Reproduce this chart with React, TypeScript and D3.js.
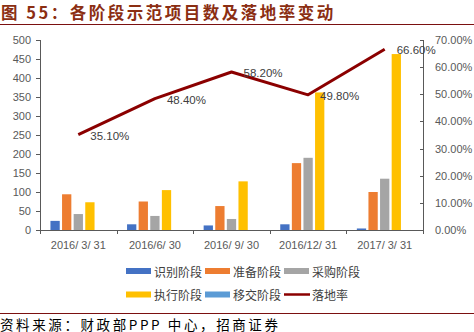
import React from "react";
import * as d3 from "d3";

const categories = ["2016/ 3/ 31", "2016/6/ 30", "2016/ 9/ 30", "2016/12/ 31", "2017/ 3/ 31"];
const seriesNames = ["识别阶段", "准备阶段", "采购阶段", "执行阶段", "移交阶段"];
const seriesColors = ["#4472C4", "#ED7D31", "#A5A5A5", "#FFC000", "#5B9BD5"];
const identifyVals = [24, 15, 12, 15, 4];
const prepareVals = [94, 75, 63, 176, 100];
const procureVals = [42, 37, 29, 190, 135];
const executeVals = [73, 105, 128, 362, 463];
const transferVals = [0, 0, 0, 0, 0];
const rateVals = [35.1, 48.4, 58.2, 49.8, 66.6];
const leftTicks = [0, 50, 100, 150, 200, 250, 300, 350, 400, 450, 500];
const rightTicks = [0, 10, 20, 30, 40, 50, 60, 70];

const W = 474;
const H = 332;
const M = { left: 40, right: 423, top: 40, bottom: 230 };
const numFont = "'Liberation Sans', Arial, sans-serif";
const cjkFont = "'Noto Sans CJK SC', sans-serif";

export default function App() {
  const series = [identifyVals, prepareVals, procureVals, executeVals, transferVals];
  const x = d3.scaleBand<string>().domain(categories).range([M.left, M.right]).paddingInner(0).paddingOuter(0);
  const x1 = d3
    .scaleBand<number>()
    .domain(d3.range(series.length))
    .range([0, x.bandwidth()])
    .paddingInner(0.2)
    .paddingOuter(0.9);
  const yL = d3.scaleLinear().domain([0, 500]).range([M.bottom, M.top]);
  const yR = d3.scaleLinear().domain([0, 70]).range([M.bottom, M.top]);
  const line = d3
    .line<number>()
    .x((_, i) => (x(categories[i]) as number) + x.bandwidth() / 2)
    .y((d) => yR(d));

  const legendItems = [
    { name: seriesNames[0], color: seriesColors[0], type: "bar" },
    { name: seriesNames[1], color: seriesColors[1], type: "bar" },
    { name: seriesNames[2], color: seriesColors[2], type: "bar" },
    { name: seriesNames[3], color: seriesColors[3], type: "bar" },
    { name: seriesNames[4], color: seriesColors[4], type: "bar" },
    { name: "落地率", color: "#8B0000", type: "line" },
  ];
  const axisColor = "#595959";
  const textColor = "#595959";

  return (
    <svg
      width={W}
      height={H}
      style={{ position: "absolute", left: 0, top: 0, background: "#fff" }}
    >
      {/* title */}
      <text
        x={1}
        y={19}
        fontFamily={cjkFont}
        fontWeight="bold"
        fontSize={16.5}
        letterSpacing={2.5}
        fill="#8B2E12"
      >
        图 55：各阶段示范项目数及落地率变动
      </text>
      <line x1={0} x2={W} y1={24.5} y2={24.5} stroke="#7B1010" strokeWidth={1.2} />

      {/* bars */}
      {series.map((vals, si) =>
        vals.map((v, ci) => (
          <rect
            key={`${si}-${ci}`}
            x={(x(categories[ci]) as number) + (x1(si) as number)}
            y={yL(v)}
            width={x1.bandwidth()}
            height={M.bottom - yL(v)}
            fill={seriesColors[si]}
          />
        ))
      )}

      {/* left axis */}
      <line x1={M.left + 0.5} x2={M.left + 0.5} y1={M.top} y2={M.bottom} stroke={axisColor} />
      {leftTicks.map((t) => (
        <g key={`l${t}`}>
          <line x1={M.left - 4} x2={M.left} y1={Math.round(yL(t)) + 0.5} y2={Math.round(yL(t)) + 0.5} stroke={axisColor} />
          <text
            x={31}
            y={yL(t)}
            textAnchor="end"
            dominantBaseline="central"
            fontFamily={numFont}
            fontSize={11}
            fill={textColor}
          >
            {t}
          </text>
        </g>
      ))}

      {/* right axis */}
      <line x1={M.right + 0.5} x2={M.right + 0.5} y1={M.top} y2={M.bottom} stroke={axisColor} />
      {rightTicks.map((t) => (
        <g key={`r${t}`}>
          <line x1={M.right - 3} x2={M.right + 1} y1={Math.round(yR(t)) + 0.5} y2={Math.round(yR(t)) + 0.5} stroke={axisColor} />
          <text
            x={435}
            y={yR(t)}
            textAnchor="start"
            dominantBaseline="central"
            fontFamily={numFont}
            fontSize={11}
            fill={textColor}
          >
            {t.toFixed(2)}%
          </text>
        </g>
      ))}

      {/* x axis */}
      <line x1={M.left} x2={M.right + 1} y1={M.bottom + 0.5} y2={M.bottom + 0.5} stroke={axisColor} />
      {categories.map((c) => (
        <g key={c}>
          <line
            x1={Math.round(x(c) as number) + 0.5}
            x2={Math.round(x(c) as number) + 0.5}
            y1={M.bottom}
            y2={M.bottom + 4}
            stroke={axisColor}
          />
          <text
            x={(x(c) as number) + x.bandwidth() / 2}
            y={245}
            textAnchor="middle"
            dominantBaseline="central"
            fontFamily={numFont}
            fontSize={11}
            fill={textColor}
          >
            {c}
          </text>
        </g>
      ))}
      <line x1={M.right + 0.5} x2={M.right + 0.5} y1={M.bottom} y2={M.bottom + 4} stroke={axisColor} />

      {/* line */}
      <path d={line(rateVals) || ""} fill="none" stroke="#8B0000" strokeWidth={3} strokeLinejoin="round" />
      {rateVals.map((v, i) => (
        <text
          key={`lab${i}`}
          x={(x(categories[i]) as number) + x.bandwidth() / 2 + 12}
          y={yR(v) + 1}
          dominantBaseline="central"
          fontFamily={numFont}
          fontSize={11.5}
          fill="#404040"
        >
          {v.toFixed(2)}%
        </text>
      ))}

      {/* legend */}
      {legendItems.map((it, i) => {
        const col = i % 3;
        const row = Math.floor(i / 3);
        const lx = 126 + col * 79;
        const ly = 271 + row * 23.5;
        return (
          <g key={it.name}>
            {it.type === "bar" ? (
              <rect x={lx} y={ly - 3} width={25} height={6} fill={it.color} />
            ) : (
              <line x1={lx} x2={lx + 26} y1={ly} y2={ly} stroke={it.color} strokeWidth={2.5} />
            )}
            <text
              x={lx + 28}
              y={ly}
              dominantBaseline="central"
              fontFamily={cjkFont}
              fontSize={12}
              fill="#404040"
            >
              {it.name}
            </text>
          </g>
        );
      })}

      {/* source */}
      <line x1={0} x2={W} y1={313.5} y2={313.5} stroke="#7B1010" strokeWidth={1} />
      <text x={0} y={323.5} dominantBaseline="central" fontFamily={cjkFont} fontSize={13.5} letterSpacing={2.6} fill="#000">
        资料来源：财政部PPP 中心，招商证券
      </text>
    </svg>
  );
}
